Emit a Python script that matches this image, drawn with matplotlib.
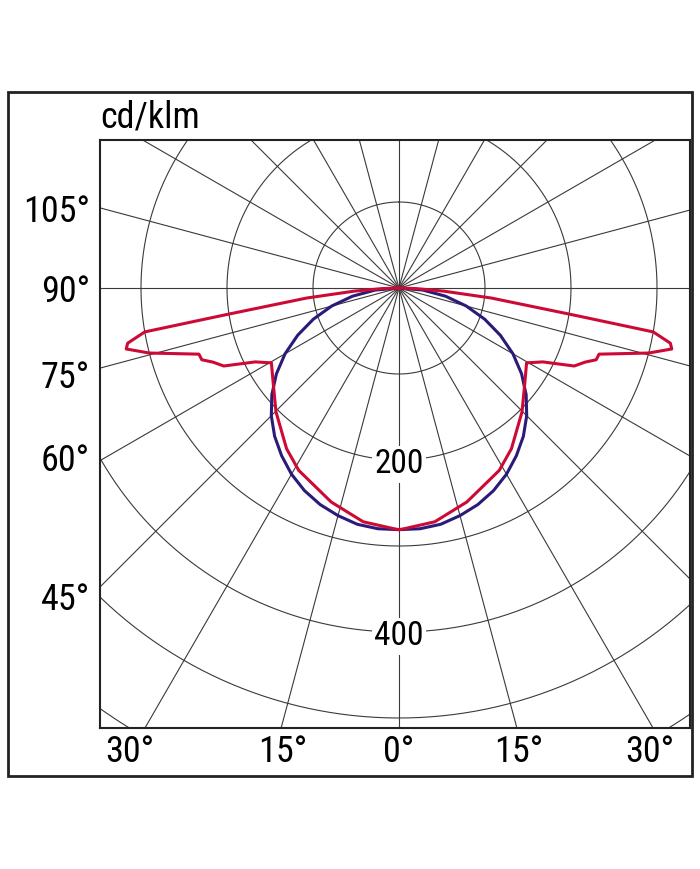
import numpy as np
import matplotlib
matplotlib.use("Agg")
import matplotlib.pyplot as plt
from matplotlib.patches import Rectangle

plt.rcParams['font.family'] = ['Roboto Condensed', 'Liberation Sans Narrow', 'Roboto', 'DejaVu Sans']

# Data (angle from nadir in degrees, intensity in cd/klm) - symmetric curves
red_angles = [0, 1.2, 8.7, 17.6, 28.8, 35, 44.8, 53.1, 59.6, 62.8, 66, 68.3, 70, 71.7,
              75.4, 77.4, 78.5, 80.2, 81.2, 83.8, 86, 88, 90]
red_values = [281, 280, 275, 261, 242, 228, 203, 183, 172, 188, 223, 233, 244, 245,
              300, 325, 322, 300, 206, 108, 52, 20, 0]
blue_angles = list(range(0, 95, 5))
blue_values = [281, 281, 279, 274, 268, 260, 250, 238, 225, 210, 193, 174, 153, 130, 106, 81, 55, 28, 0]

circle_values = [100, 200, 300, 400, 500, 600]
circle_labels = {200: "200", 400: "400"}
radial_angles = list(range(0, 360, 15))
left_labels = ["105°", "90°", "75°", "60°", "45°"]
left_label_y = [212, 292, 378, 461, 600]
bottom_labels = ["30°", "15°", "0°", "15°", "30°"]
bottom_label_x = [130, 283, 399, 519, 650]

W, H = 700, 869
fig = plt.figure(figsize=(7, 8.69), dpi=100)
ax = fig.add_axes([100 / W, (H - 728) / H, 590 / W, 588 / H])
s = 0.86  # px per cd
ax.set_xlim((100 - 399) / s, (690 - 399) / s)
ax.set_ylim(-(728 - 288) / s, (288 - 140) / s)
ax.set_aspect('equal')
ax.set_xticks([]); ax.set_yticks([])
for sp in ax.spines.values():
    sp.set_linewidth(1.5); sp.set_color('#222222')

gc = '#3a3a3a'
t = np.linspace(0, 2 * np.pi, 720)
for c in circle_values:
    ax.plot(c * np.sin(t), c * np.cos(t), color=gc, lw=0.8, zorder=1)
for a in radial_angles:
    r = np.deg2rad(a)
    ax.plot([0, 900 * np.sin(r)], [0, -900 * np.cos(r)], color=gc, lw=0.8, zorder=1)

def curve(angles, values):
    a = np.deg2rad(np.array(angles)); v = np.array(values)
    x = np.concatenate([-(v * np.sin(a))[::-1], (v * np.sin(a))[1:]])
    y = np.concatenate([-(v * np.cos(a))[::-1], -(v * np.cos(a))[1:]])
    return x, y

bx, by = curve(blue_angles, blue_values)
ax.plot(bx, by, color='#2b1a78', lw=2.2, zorder=3)
rx, ry = curve(red_angles, red_values)
ax.plot(rx, ry, color='#cc0a35', lw=2.2, zorder=4)

for c, lab in circle_labels.items():
    ax.text(0, -c - 5, lab, ha='center', va='center', fontsize=24, zorder=5,
            bbox=dict(facecolor='white', edgecolor='none', pad=2))

fig.patches.append(Rectangle((8 / W, (H - 776) / H), 684 / W, 684 / H, transform=fig.transFigure,
                             fill=False, lw=2, edgecolor='#222222'))
fig.text(100 / W, (H - 118) / H, "cd/klm", ha='left', va='center', fontsize=26)
for lab, y in zip(left_labels, left_label_y):
    fig.text(90 / W, (H - y) / H, lab, ha='right', va='center', fontsize=26)
for lab, x in zip(bottom_labels, bottom_label_x):
    fig.text(x / W, (H - 752) / H, lab, ha='center', va='center', fontsize=26)

fig.savefig("out.png", dpi=100)
